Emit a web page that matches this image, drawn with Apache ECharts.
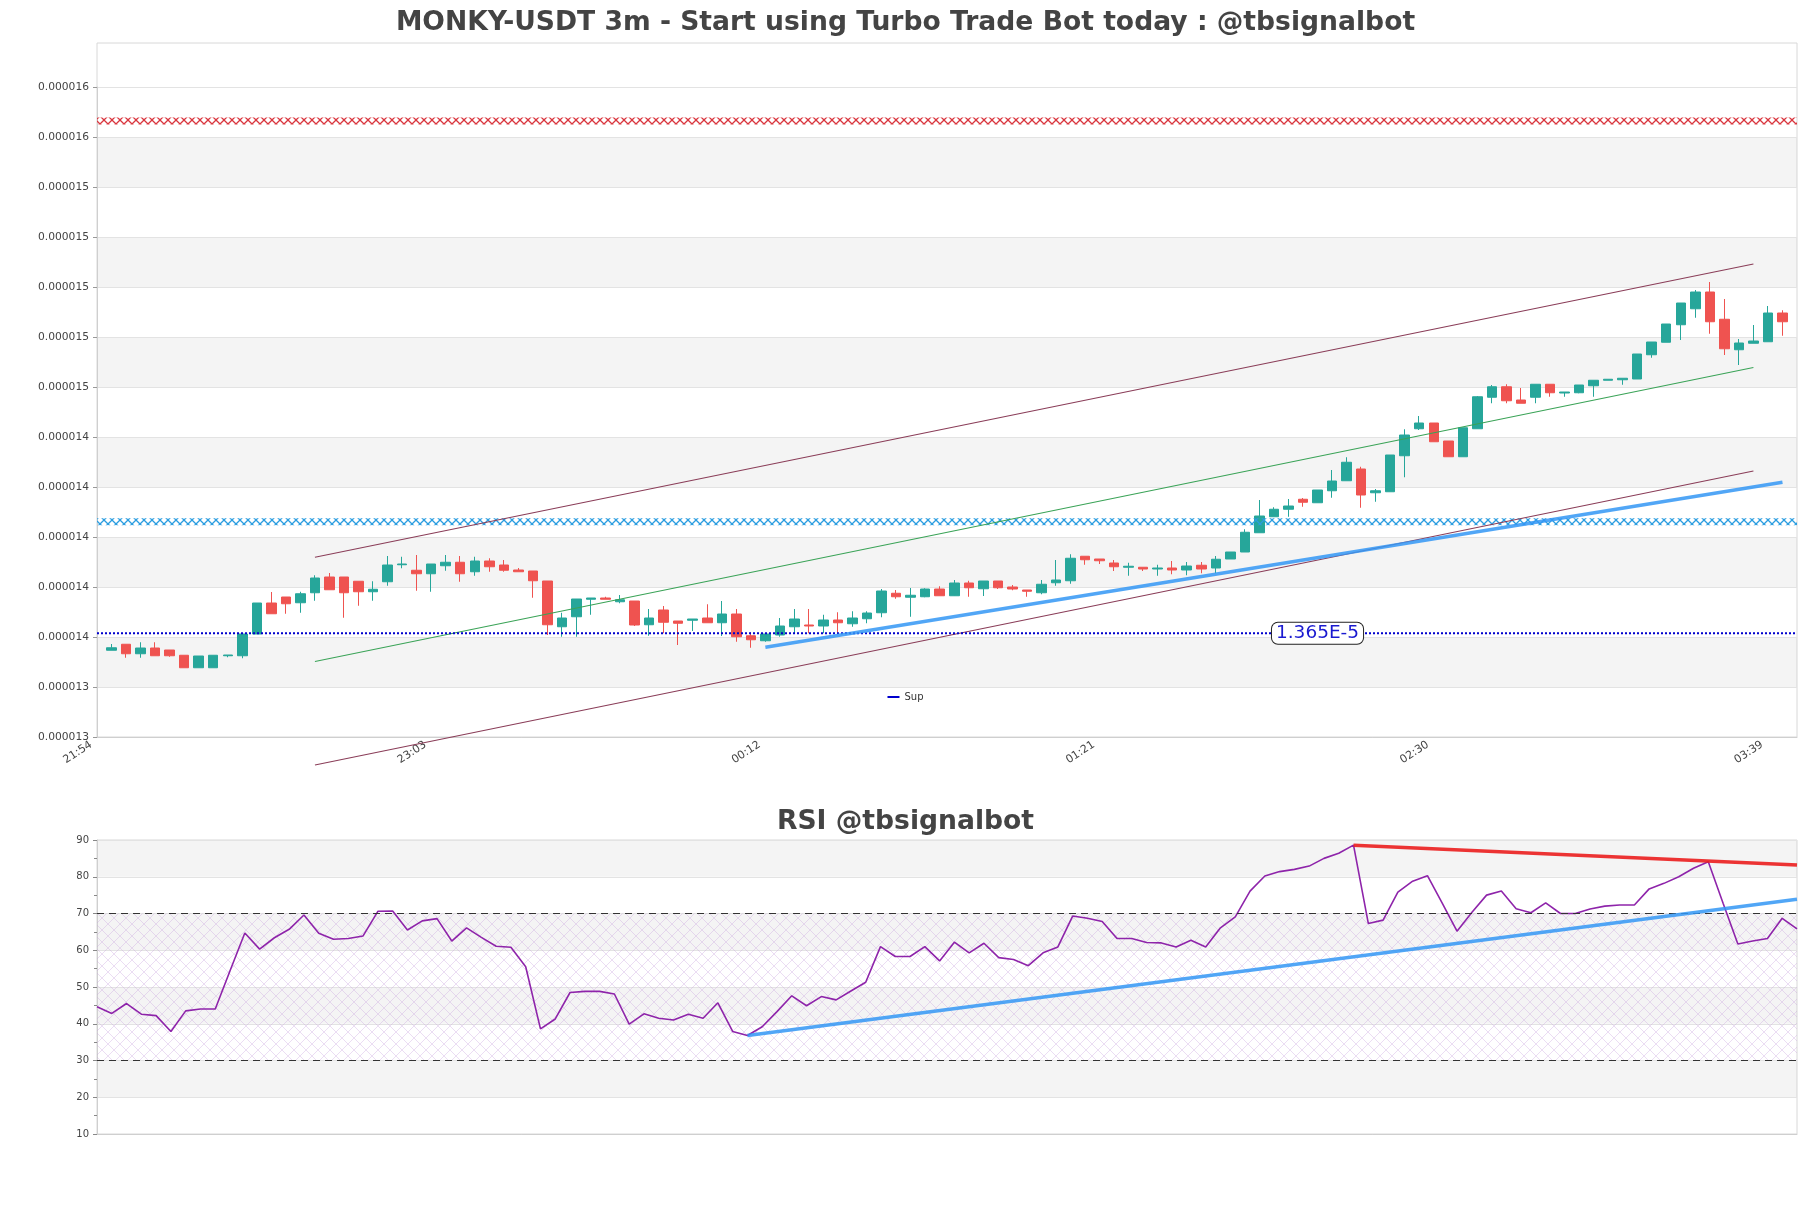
<!DOCTYPE html>
<html><head><meta charset="utf-8">
<script src="https://cdn.jsdelivr.net/npm/echarts@6/dist/echarts.min.js"></script>
<style>html,body{margin:0;padding:0;background:#fff}#c{width:1811px;height:1208px}</style>
</head><body><div id="c"></div>
<script>
// ---------- data (prices in micro-USDT, i.e. x 1e-6) ----------
const times = ["21:54","21:57","22:00","22:03","22:06","22:09","22:12","22:15","22:18","22:21","22:24","22:27","22:30","22:33","22:36","22:39","22:42","22:45","22:48","22:51","22:54","22:57","23:00","23:03","23:06","23:09","23:12","23:15","23:18","23:21","23:24","23:27","23:30","23:33","23:36","23:39","23:42","23:45","23:48","23:51","23:54","23:57","00:00","00:03","00:06","00:09","00:12","00:15","00:18","00:21","00:24","00:27","00:30","00:33","00:36","00:39","00:42","00:45","00:48","00:51","00:54","00:57","01:00","01:03","01:06","01:09","01:12","01:15","01:18","01:21","01:24","01:27","01:30","01:33","01:36","01:39","01:42","01:45","01:48","01:51","01:54","01:57","02:00","02:03","02:06","02:09","02:12","02:15","02:18","02:21","02:24","02:27","02:30","02:33","02:36","02:39","02:42","02:45","02:48","02:51","02:54","02:57","03:00","03:03","03:06","03:09","03:12","03:15","03:18","03:21","03:24","03:27","03:30","03:33","03:36","03:39","03:42","03:45"];
const firstCandleIndex = 1;
const candleOpen = [13.583,13.607,13.569,13.592,13.584,13.563,13.513,13.513,13.561,13.561,13.648,13.772,13.796,13.773,13.813,13.876,13.876,13.859,13.817,13.857,13.925,13.903,13.889,13.921,13.935,13.897,13.940,13.924,13.904,13.900,13.860,13.677,13.717,13.787,13.792,13.777,13.780,13.685,13.744,13.700,13.703,13.712,13.693,13.728,13.641,13.621,13.644,13.677,13.684,13.680,13.704,13.689,13.709,13.733,13.811,13.795,13.797,13.828,13.801,13.852,13.829,13.860,13.836,13.824,13.813,13.853,13.861,13.959,13.948,13.932,13.915,13.915,13.908,13.912,13.904,13.923,13.912,13.948,13.976,14.053,14.117,14.147,14.187,14.173,14.221,14.261,14.308,14.213,14.217,14.361,14.469,14.492,14.420,14.357,14.469,14.595,14.637,14.584,14.595,14.647,14.612,14.613,14.641,14.663,14.665,14.668,14.765,14.815,14.885,14.949,15.016,14.907,14.785,14.811,14.817,14.932];
const candleClose = [13.593,13.569,13.592,13.561,13.561,13.513,13.560,13.563,13.564,13.648,13.772,13.729,13.769,13.809,13.872,13.825,13.813,13.817,13.827,13.924,13.928,13.889,13.928,13.935,13.889,13.940,13.917,13.903,13.897,13.861,13.685,13.712,13.788,13.792,13.787,13.785,13.684,13.712,13.695,13.691,13.708,13.693,13.728,13.637,13.625,13.648,13.680,13.708,13.680,13.704,13.693,13.712,13.732,13.820,13.797,13.803,13.828,13.801,13.852,13.833,13.860,13.833,13.828,13.819,13.847,13.864,13.951,13.945,13.941,13.917,13.919,13.908,13.912,13.904,13.920,13.908,13.947,13.976,14.055,14.120,14.147,14.160,14.175,14.224,14.260,14.335,14.204,14.221,14.364,14.444,14.492,14.417,14.357,14.473,14.597,14.637,14.581,14.571,14.647,14.613,14.616,14.644,14.663,14.667,14.671,14.768,14.816,14.888,14.972,15.016,14.897,14.789,14.812,14.820,14.932,14.897];
const candleLow = [13.583,13.553,13.553,13.561,13.557,13.513,13.513,13.513,13.555,13.551,13.648,13.729,13.729,13.733,13.781,13.825,13.713,13.761,13.781,13.841,13.911,13.821,13.817,13.901,13.857,13.881,13.897,13.897,13.897,13.793,13.644,13.637,13.637,13.725,13.787,13.771,13.680,13.641,13.651,13.604,13.660,13.693,13.640,13.617,13.593,13.617,13.637,13.651,13.651,13.651,13.653,13.677,13.691,13.715,13.789,13.717,13.795,13.801,13.800,13.797,13.800,13.828,13.823,13.797,13.807,13.841,13.849,13.925,13.928,13.900,13.881,13.900,13.881,13.887,13.883,13.891,13.891,13.948,13.976,14.053,14.117,14.117,14.157,14.173,14.193,14.261,14.153,14.177,14.217,14.275,14.464,14.417,14.357,14.357,14.469,14.571,14.571,14.571,14.571,14.597,14.597,14.611,14.597,14.663,14.645,14.668,14.753,14.815,14.824,14.913,14.849,14.764,14.724,14.811,14.817,14.841];
const candleHigh = [13.608,13.607,13.615,13.615,13.584,13.563,13.560,13.563,13.564,13.648,13.772,13.816,13.796,13.817,13.883,13.892,13.876,13.859,13.859,13.960,13.957,13.964,13.928,13.964,13.960,13.957,13.951,13.944,13.912,13.900,13.860,13.733,13.788,13.792,13.797,13.804,13.780,13.748,13.760,13.700,13.708,13.767,13.780,13.748,13.655,13.648,13.712,13.748,13.748,13.725,13.735,13.739,13.739,13.828,13.824,13.832,13.831,13.839,13.864,13.861,13.860,13.860,13.844,13.824,13.864,13.944,13.967,13.959,13.948,13.944,13.933,13.915,13.925,13.940,13.936,13.936,13.960,13.976,14.067,14.184,14.155,14.188,14.192,14.224,14.304,14.355,14.317,14.228,14.364,14.467,14.520,14.492,14.420,14.473,14.600,14.644,14.647,14.632,14.647,14.647,14.616,14.644,14.663,14.667,14.671,14.768,14.816,14.888,14.972,15.024,15.056,14.988,14.828,14.884,14.960,14.943];
const rsiValues = [44.6,42.8,45.5,42.6,42.2,37.9,43.5,44.0,44.0,54.4,64.7,60.3,63.4,65.7,69.6,64.6,63.0,63.2,63.9,70.6,70.7,65.5,68.0,68.6,62.5,66.1,63.5,61.1,60.8,55.5,38.6,41.3,48.5,48.8,48.8,48.1,39.9,42.7,41.5,41.0,42.6,41.5,45.7,37.9,36.8,39.2,43.3,47.6,44.9,47.4,46.5,48.9,51.3,61.0,58.3,58.3,61.0,57.1,62.2,59.3,61.9,58.0,57.5,55.8,59.3,60.9,69.3,68.7,67.8,63.2,63.2,62.1,62.0,60.9,62.7,60.9,66.1,69.1,76.1,80.2,81.4,82.0,82.9,85.0,86.4,88.6,67.3,68.2,75.8,78.8,80.3,72.8,65.2,70.3,75.0,76.1,71.3,70.2,72.9,70.0,70.0,71.2,72.0,72.3,72.3,76.7,78.2,80.0,82.3,84.1,72.8,61.7,62.5,63.2,68.7,65.8];
const supLevel = 13.651;          // "Sup" support line
const supLabelIndex = 84;
const resistanceLevel = 15.70;    // red hatched level
const midLevel = 14.097;          // blue hatched level
const channelUpper = [[15, 13.955], [114, 15.128]];
const channelMid   = [[15, 13.538], [114, 14.714]];
const channelLower = [[15, 13.124], [114, 14.300]];
const priceTrend   = [[46, 13.595], [116, 14.255]];
const rsiSupport   = [[44, 36.8], [115, 73.9]];
const rsiResist    = [[85, 88.6], [115, 83.2]];
const priceAxis = { min: 13.236, max: 15.836, interval: 0.2 };
const rsiAxis = { min: 10, max: 90, interval: 10 };
const rsiBand = [30, 70];

// ---------- helpers ----------
const U = 1e-6;
const toPrice = pts => pts.map(p => [p[0], p[1] * U]);
function makePattern(size, color, lw) {
  const c = document.createElement('canvas');
  c.width = size; c.height = size;
  const g = c.getContext('2d');
  g.strokeStyle = color; g.lineWidth = lw;
  g.beginPath();
  g.moveTo(0, 0); g.lineTo(size, size);
  g.moveTo(size, 0); g.lineTo(0, size);
  g.stroke();
  return c;
}
const hatchRSI = makePattern(12, 'rgba(200,160,220,0.45)', 0.8);
const hatchRed = makePattern(8, '#d9363e', 1.3);
const hatchBlue = makePattern(8, '#2a9de0', 1.3);

const rsiTimes = times.slice(firstCandleIndex, firstCandleIndex + rsiValues.length);
const candleData = candleOpen.map((o, i) => [i + firstCandleIndex, o * U, candleClose[i] * U, candleLow[i] * U, candleHigh[i] * U]);

const splitAreaStyle = { show: true, areaStyle: { color: ['rgba(255,255,255,0)', 'rgba(200,200,200,0.2)'] } };
const splitLineStyle = { show: true, lineStyle: { color: '#e3e3e3', width: 1 } };
const font = 'DejaVu Sans';

const chart = echarts.init(document.getElementById('c'), null, { renderer: 'canvas' });
chart.setOption({
  animation: false,
  backgroundColor: '#fff',
  textStyle: { fontFamily: font },
  title: [
    { text: 'MONKY-USDT 3m - Start using Turbo Trade Bot today : @tbsignalbot', left: 'center', top: 5,
      textStyle: { fontSize: 26.6, fontWeight: 'bold', color: '#444', fontFamily: font } },
    { text: 'RSI @tbsignalbot', left: 'center', top: 804,
      textStyle: { fontSize: 26.6, fontWeight: 'bold', color: '#444', fontFamily: font } }
  ],
  legend: {
    data: ['Sup'], left: 'center', top: 688, icon: 'rect', itemWidth: 12, itemHeight: 2,
    backgroundColor: 'rgba(255,255,255,0.9)', padding: [4, 8],
    textStyle: { fontSize: 10, color: '#333', fontFamily: font }
  },
  grid: [
    { left: 97, right: 14, top: 87, bottom: 471, show: false },
    { left: 97, right: 14, top: 840, bottom: 74, show: true, borderColor: '#d8d8d8', backgroundColor: 'transparent' },
    { left: 97, right: 14, top: 43, bottom: 471, show: true, borderColor: '#d8d8d8', backgroundColor: 'transparent' }
  ],
  xAxis: [
    { type: 'category', gridIndex: 0, data: times, boundaryGap: false,
      axisLine: { lineStyle: { color: '#cfcfcf' } }, axisTick: { show: false },
      axisLabel: { interval: 22, rotate: 33, fontSize: 11, color: '#444', margin: 3, padding: [0, 7, 0, 0] },
      splitLine: { show: false } },
    { type: 'category', gridIndex: 1, data: rsiTimes, boundaryGap: false,
      axisLine: { lineStyle: { color: '#cfcfcf' } }, axisTick: { show: false }, axisLabel: { show: false },
      splitLine: { show: false } },
    { type: 'value', gridIndex: 2, show: false, min: 0, max: 1 }
  ],
  yAxis: [
    { type: 'value', gridIndex: 0, min: priceAxis.min * U, max: priceAxis.max * U, interval: priceAxis.interval * U,
      axisLine: { show: true, lineStyle: { color: '#cfcfcf' } },
      axisTick: { show: true, length: 4, lineStyle: { color: '#999' } },
      axisLabel: { fontSize: 10.7, color: '#444', formatter: v => v.toFixed(6) },
      splitLine: splitLineStyle, splitArea: splitAreaStyle },
    { type: 'value', gridIndex: 1, min: rsiAxis.min, max: rsiAxis.max, interval: rsiAxis.interval,
      axisLine: { show: true, lineStyle: { color: '#cfcfcf' } },
      axisTick: { show: true, length: 4, lineStyle: { color: '#888' } },
      minorTick: { show: true, splitNumber: 2, length: 3, lineStyle: { color: '#888' } },
      axisLabel: { fontSize: 10, color: '#444' },
      splitLine: splitLineStyle, splitArea: splitAreaStyle },
    { type: 'value', gridIndex: 2, show: false, min: 0, max: 1 }
  ],
  series: [
    { type: 'candlestick', name: 'price', xAxisIndex: 0, yAxisIndex: 0, data: candleData,
      encode: { x: 0, y: [1, 2, 3, 4] }, barWidth: 10,
      itemStyle: { color: '#26a69a', color0: '#ef5350', borderColor: '#26a69a', borderColor0: '#ef5350', borderWidth: 1 } },
    { type: 'line', name: 'Res', xAxisIndex: 0, yAxisIndex: 0, symbol: 'none', z: 3,
      data: [[0, resistanceLevel * U], [times.length - 1, resistanceLevel * U]],
      lineStyle: { width: 7, color: { image: hatchRed, repeat: 'repeat' } } },
    { type: 'line', name: 'Mid', xAxisIndex: 0, yAxisIndex: 0, symbol: 'none', z: 3,
      data: [[0, midLevel * U], [times.length - 1, midLevel * U]],
      lineStyle: { width: 7, color: { image: hatchBlue, repeat: 'repeat' } } },
    { type: 'line', name: 'Sup', xAxisIndex: 0, yAxisIndex: 0, symbol: 'circle', symbolSize: 0, showSymbol: true, z: 4,
      itemStyle: { color: '#0000cd' },
      data: [[0, supLevel * U],
             { value: [supLabelIndex, supLevel * U],
               label: { show: true, position: 'inside', formatter: p => p.value[1].toExponential(3).toUpperCase(),
                        color: '#1a1ad0', fontSize: 18.5, backgroundColor: '#fff', borderColor: '#222', borderWidth: 1,
                        borderRadius: 6, padding: [1, 4] } },
             [times.length - 1, supLevel * U]],
      lineStyle: { width: 2, color: '#0000cd', type: 'dotted' } },
    { type: 'line', name: 'chU', xAxisIndex: 0, yAxisIndex: 0, symbol: 'none', clip: false, z: 3,
      data: toPrice(channelUpper), lineStyle: { width: 1.1, color: '#8a3d58' } },
    { type: 'line', name: 'chM', xAxisIndex: 0, yAxisIndex: 0, symbol: 'none', clip: false, z: 3,
      data: toPrice(channelMid), lineStyle: { width: 1.1, color: '#3aa357' } },
    { type: 'line', name: 'chL', xAxisIndex: 0, yAxisIndex: 0, symbol: 'none', clip: false, z: 3,
      data: toPrice(channelLower), lineStyle: { width: 1.1, color: '#8a3d58' } },
    { type: 'line', name: 'trend', xAxisIndex: 0, yAxisIndex: 0, symbol: 'none', z: 5,
      data: toPrice(priceTrend), lineStyle: { width: 3.5, color: 'rgba(50,150,245,0.85)' } },
    { type: 'line', name: 'RSI', xAxisIndex: 1, yAxisIndex: 1, symbol: 'none', data: rsiValues, z: 4,
      lineStyle: { width: 1.6, color: '#8e24aa' }, itemStyle: { color: '#8e24aa' },
      markArea: { silent: true, itemStyle: { color: { image: hatchRSI, repeat: 'repeat' } },
                  data: [[{ yAxis: rsiBand[0] }, { yAxis: rsiBand[1] }]] },
      markLine: { silent: true, symbol: 'none', label: { show: false },
                  lineStyle: { color: '#333', type: [7, 5], width: 1.2 },
                  data: [{ yAxis: rsiBand[1] }, { yAxis: rsiBand[0] }] } },
    { type: 'line', name: 'rsiSup', xAxisIndex: 1, yAxisIndex: 1, symbol: 'none', z: 5,
      data: rsiSupport, lineStyle: { width: 3.5, color: 'rgba(50,150,245,0.85)' } },
    { type: 'line', name: 'rsiRes', xAxisIndex: 1, yAxisIndex: 1, symbol: 'none', z: 5,
      data: rsiResist, lineStyle: { width: 3.5, color: 'rgba(235,30,30,0.9)' } }
  ]
});
</script></body></html>
